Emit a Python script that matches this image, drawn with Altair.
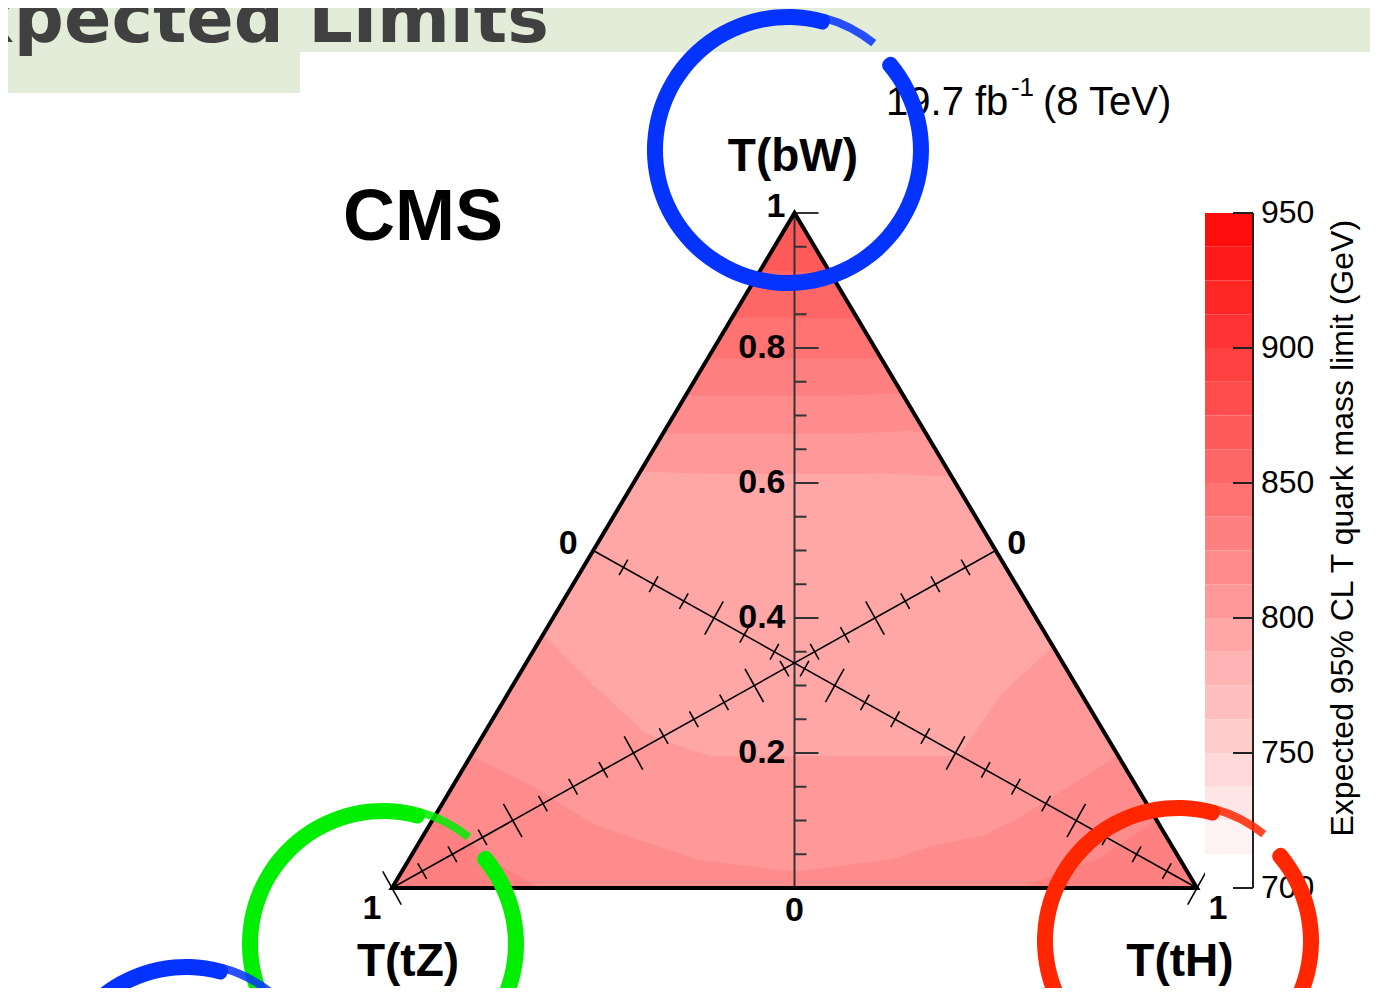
import altair as alt
import pandas as pd

# ---------------- data ----------------
# Expected 95% CL lower limit on the T quark mass (GeV) on a 0.1 grid of branching fractions.
# One list per B(T->bW); entries are for B(T->tH) = 0, 0.1, 0.2, ...  (B(T->tZ) = 1 - bW - tH)
LIMIT_BW_00 = [836, 830, 824, 818, 815, 814, 815, 818, 826, 831, 836]
LIMIT_BW_01 = [826, 818, 812, 809, 808, 808, 809, 811, 817, 825]
LIMIT_BW_02 = [812, 807, 802, 799.5, 799.5, 799.5, 799.5, 806, 812]
LIMIT_BW_03 = [806, 800, 795, 793, 792, 793, 799, 804]
LIMIT_BW_04 = [798, 793, 790, 789, 790, 792, 797]
LIMIT_BW_05 = [794, 792, 790, 790, 791, 793]
LIMIT_BW_06 = [796, 797, 797, 797, 798]
LIMIT_BW_07 = [818, 818, 818, 817]
LIMIT_BW_08 = [841, 841, 841]
LIMIT_BW_09 = [860.5, 861]
LIMIT_BW_10 = [873]
LIMIT_ROWS = [LIMIT_BW_00, LIMIT_BW_01, LIMIT_BW_02, LIMIT_BW_03, LIMIT_BW_04, LIMIT_BW_05,
              LIMIT_BW_06, LIMIT_BW_07, LIMIT_BW_08, LIMIT_BW_09, LIMIT_BW_10]
GRID_STEP = 0.1

CONTOUR_LEVELS = [700.0, 712.5, 725.0, 737.5, 750.0, 762.5, 775.0, 787.5, 800.0, 812.5,
                  825.0, 837.5, 850.0, 862.5, 875.0, 887.5, 900.0, 912.5, 925.0, 937.5, 950.0]
BAND_COLORS = ["#ffffff", "#fff2f2", "#ffe6e6", "#ffd9d9", "#ffcccc", "#ffbfbf", "#ffb3b3",
               "#ffa6a6", "#ff9999", "#ff8c8c", "#ff8080", "#ff7373", "#ff6666", "#ff5959",
               "#ff4d4d", "#ff4040", "#ff3333", "#ff2626", "#ff1a1a", "#ff0d0d"]
COLORBAR_TICKS = [700, 750, 800, 850, 900, 950]
COLORBAR_TITLE = "Expected 95% CL T quark mass limit (GeV)"

FRACTION_TICKS = [0.0, 0.05, 0.1, 0.15, 0.2, 0.25, 0.3, 0.35, 0.4, 0.45, 0.5,
                  0.55, 0.6, 0.65, 0.7, 0.75, 0.8, 0.85, 0.9, 0.95, 1.0]
FRACTION_MAJOR = [0.0, 0.2, 0.4, 0.6, 0.8, 1.0]
VERT_LABEL_VALUES = [0.2, 0.4, 0.6, 0.8, 1.0]
VERT_LABELS = ["0.2", "0.4", "0.6", "0.8", "1"]

# ---------------- layout ----------------
W, H = 861, 675
XMAX = 861 / 805          # triangle base spans x = 0..1
PXX = W / XMAX            # pixels per x unit
PXY = H                   # pixels per y unit
FONT = "Liberation Sans"

xs = alt.Scale(domain=[0, XMAX], nice=False, zero=False)
ys = alt.Scale(domain=[0, 1], nice=False, zero=False)
ycb = alt.Scale(domain=[700, 950], nice=False, zero=False)


def X(f="x"):
    return alt.X(f + ":Q", scale=xs, axis=None)


def Y(f="y", scale=ys):
    return alt.Y(f + ":Q", scale=scale, axis=None)


# ---------------- filled contours (linear interpolation on the grid triangles) ----------------
def grid_point(i, j):
    bw = i * GRID_STEP
    th = j * GRID_STEP
    return (th + bw / 2.0, bw), LIMIT_ROWS[i][j]


def clip(pts, vals, level, keep_above):
    out_p, out_v = [], []
    n = len(pts)
    for a in range(n):
        p1, v1 = pts[a], vals[a]
        p2, v2 = pts[(a + 1) % n], vals[(a + 1) % n]
        in1 = v1 >= level if keep_above else v1 <= level
        in2 = v2 >= level if keep_above else v2 <= level
        if in1:
            out_p.append(p1)
            out_v.append(v1)
        if in1 != in2:
            t = (level - v1) / (v2 - v1)
            out_p.append((p1[0] + t * (p2[0] - p1[0]), p1[1] + t * (p2[1] - p1[1])))
            out_v.append(level)
    return out_p, out_v


def area(p):
    s = 0.0
    for a in range(len(p)):
        x1, y1 = p[a]
        x2, y2 = p[(a + 1) % len(p)]
        s += x1 * y2 - x2 * y1
    return abs(s) / 2


def band_of(v):
    k = 0
    while k < len(BAND_COLORS) - 1 and v >= CONTOUR_LEVELS[k + 1]:
        k += 1
    return k


poly_rows = []
pid = 0
n = len(LIMIT_ROWS) - 1
for i in range(n):
    for j in range(n - i):
        tris = [[(i, j), (i, j + 1), (i + 1, j)]]
        if i + j <= n - 2:
            tris.append([(i, j + 1), (i + 1, j + 1), (i + 1, j)])
        for tri in tris:
            pts = [grid_point(a, b)[0] for a, b in tri]
            vals = [grid_point(a, b)[1] for a, b in tri]
            for k in range(band_of(min(vals)), band_of(max(vals)) + 1):
                p, v = clip(pts, vals, CONTOUR_LEVELS[k], True)
                if len(p) < 3:
                    continue
                p, v = clip(p, v, CONTOUR_LEVELS[k + 1], False)
                if len(p) < 3 or area(p) < 1e-7:
                    continue
                for o, (px, py) in enumerate(p):
                    poly_rows.append(dict(pid=pid, o=o, x=px, y=py, c=BAND_COLORS[k]))
                pid += 1
poly_df = pd.DataFrame(poly_rows)

contours = alt.Chart(poly_df).mark_line(interpolate="linear-closed", strokeWidth=1.2,
                                        strokeJoin="round").encode(
    x=X(), y=Y(), detail="pid:N", order="o:Q",
    fill=alt.Fill("c:N", scale=None), stroke=alt.Stroke("c:N", scale=None))

# ---------------- triangle outline ----------------
outline_df = pd.DataFrame({"x": [0.0, 1.0, 0.5], "y": [0.0, 0.0, 1.0], "o": [0, 1, 2]})
outline = alt.Chart(outline_df).mark_line(interpolate="linear-closed", color="black",
                                          strokeWidth=4, strokeJoin="miter").encode(
    x=X(), y=Y(), order="o:Q")

# ---------------- axes ----------------
vline_df = pd.DataFrame({"x": [0.5], "y": [0.0], "y2": [1.0]})
vline = alt.Chart(vline_df).mark_rule(color="#333333", strokeWidth=2).encode(
    x=X(), y=Y(), y2="y2:Q")
vt_df = pd.DataFrame({"y": FRACTION_TICKS})
vt_df["x"] = 0.5
vt_df["x2"] = [0.5 + (24 if t in FRACTION_MAJOR else 12) / PXX for t in FRACTION_TICKS]
vticks = alt.Chart(vt_df).mark_rule(color="#333333", strokeWidth=2).encode(
    x=X(), x2="x2:Q", y=Y())

DIAG_AXES = [((0.25, 0.5), (1.0, 0.0)), ((0.75, 0.5), (0.0, 0.0))]
dl_rows, dt_rows = [], []
for (x0, y0), (x1, y1) in DIAG_AXES:
    dl_rows.append(dict(x=x0, y=y0, x2=x1, y2=y1))
    dx, dy = (x1 - x0) * PXX, (y1 - y0) * PXY
    L = (dx * dx + dy * dy) ** 0.5
    nx, ny = -dy / L, dx / L
    for t in FRACTION_TICKS:
        h = 19 if t in FRACTION_MAJOR else 9
        px, py = x0 + t * (x1 - x0), y0 + t * (y1 - y0)
        dt_rows.append(dict(x=px - nx * h / PXX, y=py - ny * h / PXY,
                            x2=px + nx * h / PXX, y2=py + ny * h / PXY))
dlines = alt.Chart(pd.DataFrame(dl_rows)).mark_rule(color="black", strokeWidth=1.6).encode(
    x=X(), y=Y(), x2="x2:Q", y2="y2:Q")
dticks = alt.Chart(pd.DataFrame(dt_rows)).mark_rule(color="black", strokeWidth=1.6).encode(
    x=X(), y=Y(), x2="x2:Q", y2="y2:Q")

# ---------------- axis labels ----------------
def txt(df, **kw):
    base = dict(font=FONT, fontWeight="bold", fontSize=34, color="black", baseline="middle")
    base.update(kw)
    return alt.Chart(df).mark_text(**base).encode(x=X(), y=Y(), text="t:N")


vlab = txt(pd.DataFrame({"x": 0.5, "y": VERT_LABEL_VALUES[:4], "t": VERT_LABELS[:4]}),
           align="right", dx=-9)
vlab1 = txt(pd.DataFrame({"x": [0.5], "y": [1.0], "t": ["1"]}), align="right", dx=-9, dy=-6)
vlab0 = txt(pd.DataFrame({"x": [0.5], "y": [0.0], "t": ["0"]}), align="center", dy=23)
d0l = txt(pd.DataFrame({"x": [0.25], "y": [0.5], "t": ["0"]}), align="center", dx=-25, dy=-7)
d0r = txt(pd.DataFrame({"x": [0.75], "y": [0.5], "t": ["0"]}), align="center", dx=21, dy=-7)
d1r = txt(pd.DataFrame({"x": [1.0], "y": [0.0], "t": ["1"]}), align="center", dx=21, dy=21)
d1l = txt(pd.DataFrame({"x": [0.0], "y": [0.0], "t": ["1"]}), align="center", dx=-20, dy=21)

vertex_lab = txt(pd.DataFrame({"x": [0.4981, 0.0199, 0.9789], "y": [1.083, -0.1096, -0.1096],
                               "t": ["T(bW)", "T(tZ)", "T(tH)"]}), align="center", fontSize=46)
cms = txt(pd.DataFrame({"x": [0.0385], "y": [0.9926], "t": ["CMS"]}), align="center", fontSize=72)
lumi_a = txt(pd.DataFrame({"x": [0.6137], "y": [1.1452], "t": ["19.7 fb"]}), align="left",
             fontWeight="normal", fontSize=40, baseline="alphabetic")
lumi_b = txt(pd.DataFrame({"x": [0.7689], "y": [1.1733], "t": ["-1"]}), align="left",
             fontWeight="normal", fontSize=26, baseline="alphabetic")
lumi_c = txt(pd.DataFrame({"x": [0.8087], "y": [1.1452], "t": ["(8 TeV)"]}), align="left",
             fontWeight="normal", fontSize=40, baseline="alphabetic")

# ---------------- colour bar ----------------
cb_df = pd.DataFrame({"lo": CONTOUR_LEVELS[:-1], "hi": CONTOUR_LEVELS[1:], "c": BAND_COLORS})
cb_df["x"] = (1205 - 392) / 805
cb_df["x2"] = XMAX
cb_rect = alt.Chart(cb_df).mark_rect().encode(
    x=X(), x2="x2:Q", y=Y("lo", ycb), y2="hi:Q", fill=alt.Fill("c:N", scale=None))
cb_line = alt.Chart(pd.DataFrame({"x": [XMAX], "lo": [700], "hi": [950]})).mark_rule(
    color="#222222", strokeWidth=2).encode(x=X(), y=Y("lo", ycb), y2="hi:Q")
cbt_df = pd.DataFrame({"v": COLORBAR_TICKS})
cbt_df["x"] = (1233 - 392) / 805
cbt_df["x2"] = XMAX
cb_ticks = alt.Chart(cbt_df).mark_rule(color="#222222", strokeWidth=2).encode(
    x=X(), x2="x2:Q", y=Y("v", ycb))
cbl_df = pd.DataFrame({"v": COLORBAR_TICKS, "t": [str(v) for v in COLORBAR_TICKS]})
cbl_df["x"] = XMAX
cb_labels = alt.Chart(cbl_df).mark_text(font=FONT, fontSize=32, align="left", baseline="middle",
                                        dx=8, color="black").encode(
    x=X(), y=Y("v", ycb), text="t:N")
colorbar = alt.layer(cb_rect, cb_line, cb_ticks, cb_labels)
cb_title = txt(pd.DataFrame({"x": [1.1814], "y": [0.533], "t": [COLORBAR_TITLE]}),
               align="center", fontWeight="normal", fontSize=32, angle=270)

# ---------------- slide banner ----------------
ban_df = pd.DataFrame({"x": [-0.487, -0.487], "x2": [1.2348, -0.1143],
                       "y": [1.2385, 1.1778], "y2": [1.3156, 1.3156]})
banner = alt.Chart(ban_df).mark_rect(color="#e3ecd9").encode(
    x=X(), x2="x2:Q", y=Y(), y2="y2:Q")
ban_txt = alt.Chart(pd.DataFrame({"x": [0.195], "y": [1.2533], "t": ["Expected Limits"]})).mark_text(
    font="DejaVu Sans", fontWeight="bold", fontSize=70, color="#404040", align="right",
    baseline="alphabetic").encode(x=X(), y=Y(), text="t:N")

# ---------------- hand-drawn circles ----------------
CIRCLES = [("#0433ff", 0.4919, 1.0933), ("#00ee00", -0.0112, -0.083),
           ("#ff2600", 0.9764, -0.0785), ("#0433ff", -0.2559, -0.3141)]
circle_layers = []
for col, cx, cy in CIRCLES:
    cdf = pd.DataFrame({"x": [cx], "y": [cy]})
    circle_layers.append(alt.Chart(cdf).mark_arc(
        theta=0.82, theta2=6.60, innerRadius=125, outerRadius=141, cornerRadius=7,
        color=col).encode(x=X(), y=Y()))
    circle_layers.append(alt.Chart(cdf).mark_arc(
        theta=6.55, theta2=6.96, innerRadius=133, outerRadius=141, color=col,
        opacity=0.85).encode(x=X(), y=Y()))

layers = [banner, ban_txt, contours, vline, vticks, dlines, dticks, outline, colorbar, cb_title,
          vlab, vlab1, vlab0, d0l, d0r, d1r, d1l, vertex_lab, cms, lumi_a, lumi_b, lumi_c]
layers += circle_layers

chart = alt.layer(*layers).resolve_scale(y="independent").properties(
    width=W, height=H,
    padding={"left": 384, "top": 205, "right": 117, "bottom": 100},
    autosize=alt.AutoSizeParams(type="none"),
    background="white",
).configure_view(stroke=None)

chart.save("out.html", embed_options={"renderer": "svg", "actions": False})
